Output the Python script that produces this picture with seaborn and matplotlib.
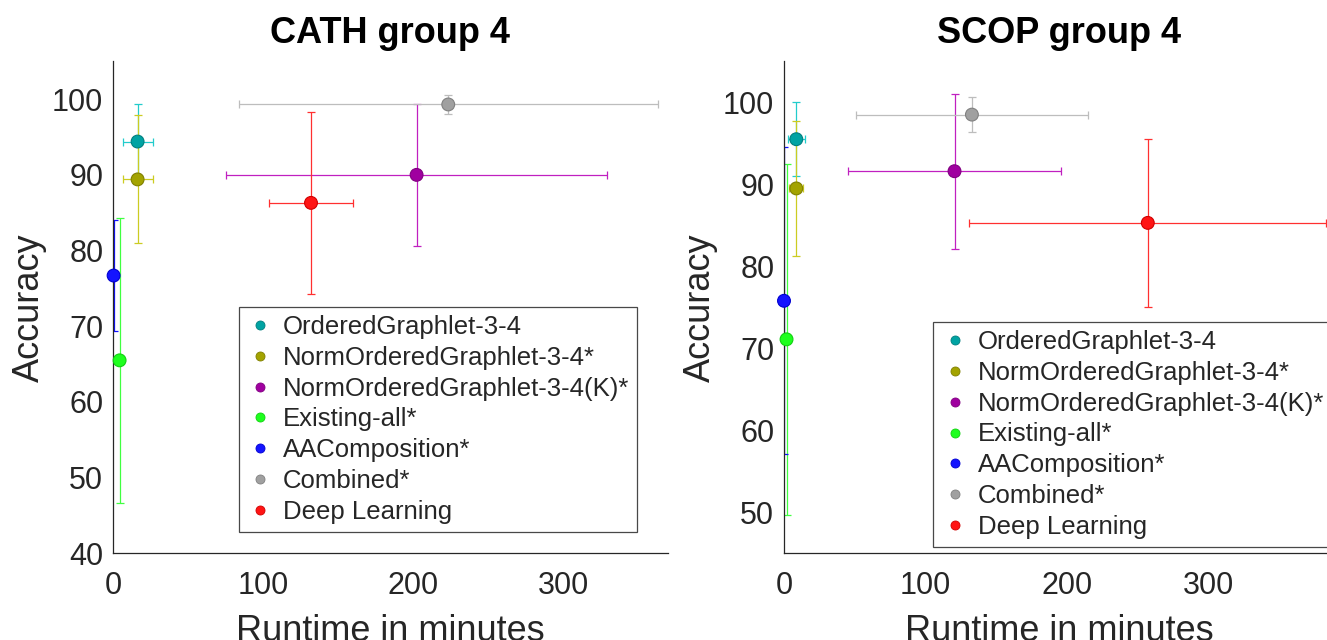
import numpy as np
import pandas as pd
import matplotlib
matplotlib.use("Agg")
import matplotlib.pyplot as plt
from matplotlib.lines import Line2D
import seaborn as sns

methods = ["OrderedGraphlet-3-4", "NormOrderedGraphlet-3-4*", "NormOrderedGraphlet-3-4(K)*",
           "Existing-all*", "AAComposition*", "Combined*", "Deep Learning"]

# CATH group 4
cath_runtime = [16.4, 16.4, 202.4, 4.4, 0.4, 223.5, 132.0]
cath_runtime_err = [10.0, 10.0, 127.0, 0.5, 0.5, 139.7, 28.2]
cath_acc = [94.4, 89.4, 90.0, 65.5, 76.7, 99.3, 86.3]
cath_acc_err = [5.0, 8.45, 9.4, 18.8, 7.3, 1.3, 12.0]

# SCOP group 4
scop_runtime = [8.7, 8.7, 120.6, 1.8, 0.0, 132.9, 257.3]
scop_runtime_err = [5.8, 5.0, 75.2, 0.5, 0.5, 82.0, 126.2]
scop_acc = [95.5, 89.5, 91.6, 71.1, 75.8, 98.5, 85.3]
scop_acc_err = [4.5, 8.2, 9.45, 21.4, 18.7, 2.1, 10.2]

marker_colors = ["#00a3a3", "#a3a300", "#a000a0", "#1eff1e", "#1414ff", "#a0a0a0", "#ff1414"]
edge_colors = ["#007f7f", "#7f7f00", "#800080", "#10d010", "#0000d0", "#808080", "#d00000"]
err_colors = ["#22cccc", "#cccc22", "#c020c0", "#40ff40", "#1010ff", "#bdbdbd", "#ff3030"]

sns.set_style("white")
plt.rcParams["font.family"] = ["Liberation Sans", "DejaVu Sans"]

W, H = 1327, 640
fig = plt.figure(figsize=(W / 100, H / 100), dpi=100)

TXT = "#262626"


def panel(rect, runtime, rt_err, acc, acc_err, title, ylim, yticks, xlim, leg_anchor):
    ax = fig.add_axes(rect)
    df = pd.DataFrame({"method": methods, "runtime": runtime, "acc": acc})
    for i in range(len(methods)):
        ax.errorbar(runtime[i], acc[i], xerr=rt_err[i], yerr=acc_err[i], fmt="none",
                    ecolor=err_colors[i], elinewidth=0.9, capsize=3, capthick=0.9, zorder=2)
    sns.scatterplot(data=df, x="runtime", y="acc", hue="method", palette=marker_colors,
                    hue_order=methods, s=85, edgecolor=edge_colors, linewidth=0.8,
                    legend=False, ax=ax, zorder=3, clip_on=False)
    ax.set_xlim(*xlim)
    ax.set_ylim(*ylim)
    ax.set_xticks([0, 100, 200, 300])
    ax.set_yticks(yticks)
    for s in ["top", "right"]:
        ax.spines[s].set_visible(False)
    for s in ["left", "bottom"]:
        ax.spines[s].set_color(TXT)
        ax.spines[s].set_linewidth(0.9)
    ax.tick_params(axis="both", direction="in", length=3.5, width=0.8, color=TXT,
                   labelsize=22, labelcolor=TXT)
    ax.tick_params(axis="x", pad=13)
    ax.tick_params(axis="y", pad=7)
    ax.set_xlabel("Runtime in minutes", fontsize=26, color=TXT, labelpad=9)
    ax.set_ylabel("Accuracy", fontsize=26, color=TXT, labelpad=4)
    ax.set_title(title, fontsize=26, fontweight="bold", color="black", pad=13)
    handles = [Line2D([], [], linestyle="none", marker="o", markersize=6.5,
                      markerfacecolor=marker_colors[i], markeredgecolor=edge_colors[i],
                      markeredgewidth=0.6) for i in range(len(methods))]
    leg = ax.legend(handles, methods, loc="upper left", bbox_to_anchor=leg_anchor,
                    borderaxespad=0, fontsize=18.5, frameon=True, fancybox=False,
                    borderpad=0.3, handlelength=1.1, handletextpad=0.33, labelspacing=0.265)
    leg.get_frame().set_edgecolor("#1a1a1a")
    leg.get_frame().set_linewidth(0.9)
    return ax


ax_bot = (H - 553.4) / H
ax_h = (553.4 - 61.3) / H
panel([113 / W, ax_bot, 555 / W, ax_h], cath_runtime, cath_runtime_err, cath_acc, cath_acc_err,
      "CATH group 4", (40, 105), [40, 50, 60, 70, 80, 90, 100], (0, 370), (0.2263, 0.5002))
panel([784 / W, ax_bot, 550 / W, ax_h], scop_runtime, scop_runtime_err, scop_acc, scop_acc_err,
      "SCOP group 4", (45, 105), [50, 60, 70, 80, 90, 100], (0, 389), (0.2718, 0.4695))

fig.savefig("out.png", dpi=100)
